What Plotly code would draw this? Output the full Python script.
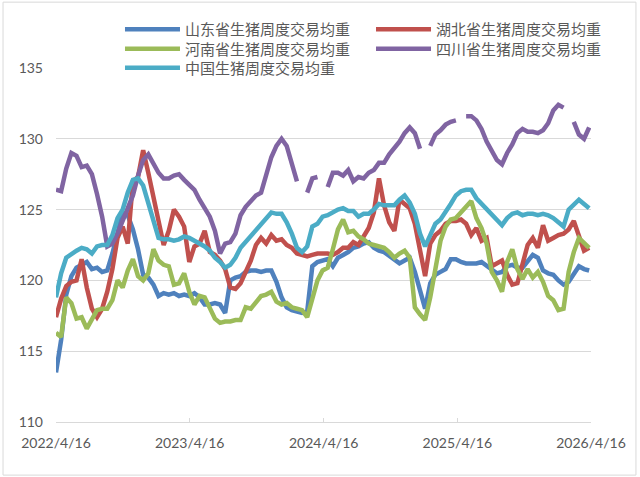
import plotly.graph_objects as go
import pandas as pd

# weekly-average hog weights, sampled every two weeks from 2022/4/16
dates = pd.date_range("2022-04-16", periods=105, freq="14D")

shandong = [113.5, 115.8, 119.0, 120.3, 120.9, 121.1, 121.3, 120.8, 120.9, 120.6,
            120.7, 121.9, 123.5, 124.8, 124.6, 123.6, 122.2, 120.4, 120.2, 119.7,
            118.9, 119.1, 119.0, 119.1, 118.9, 119.0, 118.9, 119.1, 118.8, 118.3,
            118.3, 118.4, 118.3, 117.7, 120.0, 120.2, 120.3, 120.6, 120.7, 120.7,
            120.6, 120.7, 120.7, 119.9, 118.8, 118.1, 117.9, 117.8, 117.7, 117.8,
            121.0, 121.3, 121.4, 121.5, 121.0, 121.6, 121.8, 122.0, 122.3, 122.4,
            122.6, 122.7, 122.3, 122.1, 122.0, 121.7, 121.4, 121.2, 121.4, 121.6,
            120.6, 119.4, 118.0, 119.8, 120.4, 120.6, 120.8, 121.5, 121.5, 121.3,
            121.2, 121.2, 121.2, 121.3, 121.0, 120.7, 120.5, 120.6, 121.0, 121.1,
            120.9, 120.9, 121.4, 121.8, 121.6, 120.7, 120.5, 120.4, 120.0, 119.7,
            119.9, 120.5, 121.0, 120.8, 120.7]

hubei = [117.4, 118.7, 119.6, 119.9, 120.0, 121.5, 119.5, 118.0, 117.4, 118.0,
         119.2, 120.8, 123.0, 123.8, 122.6, 127.0, 127.3, 129.2, 127.6, 125.9,
         124.0, 122.5, 123.5, 125.0, 124.5, 123.8, 121.3, 122.4, 122.6, 123.5,
         122.0, 121.8, 121.4, 120.8, 119.5, 119.4, 119.8, 120.6, 121.4, 122.5,
         123.0, 122.6, 123.2, 122.8, 122.9, 122.5, 122.3, 121.9, 121.8, 121.7,
         121.8, 121.9, 121.9, 121.9, 121.8, 122.0, 122.3, 122.3, 122.7, 122.5,
         123.1, 123.7, 124.8, 127.2, 125.3, 124.1, 123.5, 125.7, 125.4, 125.1,
         124.0, 122.0, 120.3, 122.6, 123.2, 123.5, 124.0, 124.2, 124.2, 124.3,
         124.0, 123.2, 123.7, 122.8, 123.0, 121.0, 121.2, 121.4, 120.4, 119.7,
         119.8, 121.2, 122.5, 123.0, 122.3, 123.9, 122.8, 123.0, 123.2, 123.3,
         123.6, 124.2, 123.1, 122.1, 122.3]

henan = [116.3, 116.0, 118.8, 118.4, 117.3, 117.4, 116.6, 117.3, 117.9, 118.0,
         118.0, 118.6, 120.0, 119.5, 120.7, 121.5, 120.3, 120.0, 120.5, 122.2,
         121.4, 121.1, 121.0, 119.7, 119.8, 120.5, 119.2, 118.3, 118.9, 118.8,
         118.1, 117.3, 117.0, 117.1, 117.1, 117.2, 117.2, 118.1, 118.0, 118.5,
         118.9, 119.0, 119.2, 118.5, 118.3, 118.4, 118.1, 118.0, 117.9, 117.4,
         118.8, 120.0, 120.7, 120.9, 122.2, 123.6, 124.3, 123.4, 123.5, 123.1,
         122.9, 122.6, 122.5, 122.4, 122.3, 122.0, 121.6, 121.9, 122.1, 121.6,
         118.1, 117.6, 117.2, 118.8, 121.0, 122.8, 123.8, 124.3, 124.4, 124.8,
         125.1, 125.6, 124.4, 123.7, 122.6, 120.6, 120.0, 119.2, 121.3, 122.2,
         120.8, 120.1, 120.8, 120.2, 120.6, 119.9, 118.9, 118.6, 117.9, 118.0,
         120.6, 122.0, 123.0, 122.7, 122.3]

# None = no data that week (gaps in the Sichuan series)
sichuan = [126.4, 126.3, 127.9, 129.0, 128.8, 128.0, 128.1, 127.5, 126.1, 124.5,
           122.4, 122.6, 123.3, 124.2, 125.2, 126.0, 127.4, 128.5, 128.9, 128.3,
           127.6, 127.2, 127.2, 127.4, 127.5, 127.1, 126.7, 126.4, 125.7, 125.1,
           124.5, 123.5, 121.9, 122.6, 122.7, 123.3, 124.6, 125.2, 125.6, 126.0,
           126.2, 127.4, 128.7, 129.5, 130.0, 129.5, 128.1, 127.0, None, 126.2,
           127.2, 127.3, None, 126.6, 127.6, 127.6, 127.4, 127.8, 127.0, 127.3,
           127.2, 127.6, 127.8, 128.3, 128.3, 128.9, 129.3, 129.8, 130.4, 130.8,
           130.4, 129.3, None, 129.5, 130.3, 130.6, 131.0, 131.2, 131.3, None,
           131.6, 131.6, 131.3, 130.7, 129.8, 129.1, 128.5, 128.2, 129.0, 129.6,
           130.4, 130.7, 130.5, 130.5, 130.4, 130.6, 131.1, 132.0, 132.4, 132.2,
           None, 131.2, 130.3, 130.0, 130.8]

china = [118.8, 120.5, 121.6, 121.9, 122.1, 122.3, 122.2, 121.9, 122.4, 122.5,
         122.5, 123.2, 124.4, 125.0, 126.2, 127.1, 127.2, 126.7, 125.4, 124.3,
         123.0, 122.9, 122.9, 122.8, 122.9, 123.1, 123.0, 122.8, 122.6, 122.4,
         122.1, 121.6, 121.3, 120.9, 121.1, 121.6, 122.3, 122.7, 123.1, 123.5,
         123.9, 124.4, 124.8, 124.7, 124.7, 124.1, 123.3, 122.3, 122.0, 122.4,
         123.8, 124.0, 124.5, 124.6, 124.8, 125.0, 125.1, 124.9, 124.9, 124.5,
         124.7, 124.7, 125.0, 125.4, 125.3, 125.3, 125.3, 125.7, 126.0, 125.5,
         124.7, 123.3, 122.4, 123.2, 124.0, 124.3, 124.8, 125.4, 126.0, 126.3,
         126.4, 126.4, 125.8, 125.4, 125.0, 124.6, 124.2, 123.9, 124.4, 124.7,
         124.8, 124.6, 124.7, 124.7, 124.6, 124.7, 124.6, 124.4, 124.1, 123.8,
         125.0, 125.3, 125.7, 125.4, 125.1]

names = ["山东省生猪周度交易均重", "湖北省生猪周度交易均重", "河南省生猪周度交易均重",
         "四川省生猪周度交易均重", "中国生猪周度交易均重"]
series = [shandong, hubei, henan, sichuan, china]
colors = ["#4F81BD", "#C0504D", "#9BBB59", "#8064A2", "#4BACC6"]

tick_dates = ["2022-04-16", "2023-04-16", "2024-04-16", "2025-04-16", "2026-04-16"]
tick_text = ["2022/4/16", "2023/4/16", "2024/4/16", "2025/4/16", "2026/4/16"]

# legend slots (2 columns x 3 rows), paper coords of the plot area
legend_ids = ["legend", "legend2", "legend3", "legend4", "legend5"]
legend_x = [0.1196, 0.5888, 0.1196, 0.5888, 0.1196]
legend_y = [1.1088, 1.1088, 1.0537, 1.0537, 1.0]

fig = go.Figure()
for name, vals, col, lg in zip(names, series, colors, legend_ids):
    fig.add_trace(go.Scatter(x=dates, y=vals, name=name, mode="lines",
                             line=dict(color=col, width=4.5),
                             connectgaps=False, legend=lg))

legend_font = dict(family="Noto Sans CJK SC", size=15, color="#595959")
for lg, lx, ly in zip(legend_ids, legend_x, legend_y):
    fig.update_layout({lg: dict(x=lx, y=ly, xanchor="left", yanchor="middle",
                                orientation="h", itemwidth=55, font=legend_font,
                                bgcolor="rgba(0,0,0,0)")})

fig.update_layout(
    width=640, height=477,
    margin=dict(l=56, r=49, t=68, b=55, autoexpand=False),
    paper_bgcolor="white", plot_bgcolor="white",
    font=dict(family="Lato, Noto Sans CJK SC", size=14, color="#595959"),
    showlegend=True,
)
fig.update_xaxes(type="date", range=["2022-04-16", "2026-04-16"],
                 tickvals=tick_dates, ticktext=tick_text,
                 showgrid=False, zeroline=False,
                 showline=True, linecolor="#d9d9d9", linewidth=1,
                 ticks="inside", ticklen=4, tickcolor="#d9d9d9",
                 ticklabelstandoff=8)
fig.update_yaxes(range=[110, 135], dtick=5, showgrid=True,
                 gridcolor="#d9d9d9", gridwidth=1, zeroline=False,
                 showline=False, ticks="", ticklabelstandoff=12)

# light frame around the whole chart
fig.add_shape(type="rect", xref="paper", yref="paper",
              x0=-0.099, x1=1.084, y0=-0.150, y1=1.186,
              line=dict(color="#d9d9d9", width=1), layer="below")

# the page body has a default 8px margin; drop it so the chart sits at 0,0
fig.write_html("out.html", config={"displayModeBar": False},
               post_script="document.body.style.margin='0';")
